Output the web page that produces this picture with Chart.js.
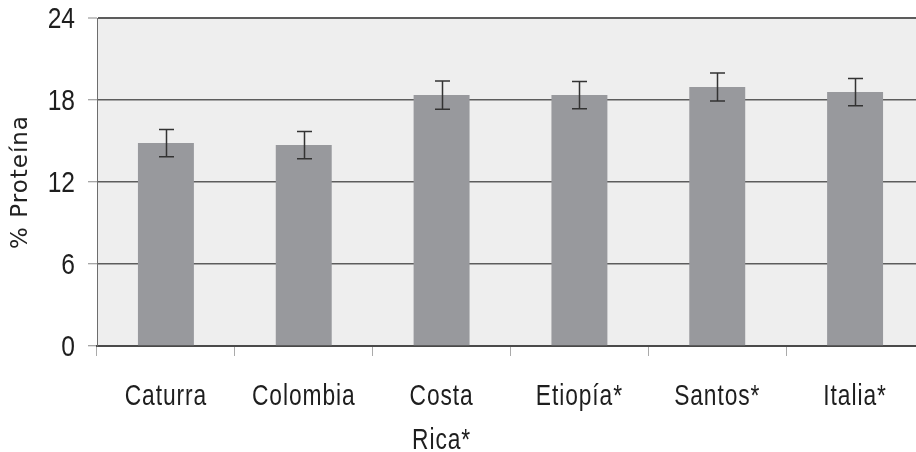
<!DOCTYPE html>
<html>
<head>
<meta charset="utf-8">
<script src="https://cdn.jsdelivr.net/npm/chart.js@4.4.1/dist/chart.umd.min.js"></script>
<style>
  html, body { margin: 0; padding: 0; background: #ffffff; overflow: hidden; }
  #wrap { width: 916px; height: 452px; overflow: hidden; position: relative; }
  canvas { display: block; }
</style>
</head>
<body>
<div id="wrap"><canvas id="c" width="940" height="452"></canvas></div>
<script>
// Coffee varieties and their mean protein content (%), with error bars
const categories = ['Caturra', 'Colombia', ['Costa', 'Rica*'], 'Etiopía*', 'Santos*', 'Italia*'];
const protein = [14.85, 14.7, 18.36, 18.36, 18.95, 18.58];
const proteinError = [1.0, 1.0, 1.03, 1.0, 1.02, 1.0];
const yTicks = [0, 6, 12, 18, 24];

const axisFont = "'Liberation Sans', Arial, sans-serif";

// light grey plot background behind the grid
const plotBackground = {
  id: 'plotBackground',
  beforeDraw(chart) {
    const { ctx, chartArea: a } = chart;
    ctx.save();
    ctx.fillStyle = '#eeeeee';
    ctx.fillRect(a.left, a.top, a.right - a.left, a.bottom - a.top);
    ctx.restore();

    // narrow tick labels: each line squeezed to a fraction of its natural width
    const narrowLabels = (scale, squeeze, spacing) => {
      if (scale._narrow) return;
      const orig = scale.drawLabels.bind(scale);
      scale.drawLabels = function (area) {
        const c = this.ctx;
        const baseFill = CanvasRenderingContext2D.prototype.fillText;
        c.save();
        c.letterSpacing = spacing;
        c.fillText = function (t, x, y) {
          const w = this.measureText(t).width;
          return baseFill.call(this, t, x, y, w * squeeze);
        };
        orig(area);
        delete c.fillText;
        c.restore();
      };
      scale._narrow = true;
    };
    narrowLabels(chart.scales.x, 0.76, '1.2px');
    narrowLabels(chart.scales.y, 0.82, '0px');

    // slight tracking on the axis title
    const y = chart.scales.y;
    if (!y._spacedTitle) {
      const origTitle = y.drawTitle.bind(y);
      y.drawTitle = function (area) {
        this.ctx.save();
        this.ctx.letterSpacing = '1px';
        origTitle(area);
        this.ctx.restore();
      };
      y._spacedTitle = true;
    }
  }
};

// vertical error bars with caps, positioned through the scales
const errorBars = {
  id: 'errorBars',
  afterDatasetsDraw(chart) {
    const { ctx } = chart;
    const yScale = chart.scales.y;
    const meta = chart.getDatasetMeta(0);
    ctx.save();
    ctx.strokeStyle = '#333333';
    ctx.lineWidth = 1.5;
    meta.data.forEach((bar, i) => {
      const v = protein[i], e = proteinError[i];
      const x = Math.round(bar.x) + 0.5;
      const yHi = yScale.getPixelForValue(v + e);
      const yLo = yScale.getPixelForValue(v - e);
      const cap = 7.5;
      ctx.beginPath();
      ctx.moveTo(x, yHi); ctx.lineTo(x, yLo);
      ctx.moveTo(x - cap, yHi); ctx.lineTo(x + cap, yHi);
      ctx.moveTo(x - cap, yLo); ctx.lineTo(x + cap, yLo);
      ctx.stroke();
    });
    ctx.restore();
  }
};

new Chart(document.getElementById('c'), {
  type: 'bar',
  data: {
    labels: categories,
    datasets: [{
      label: '% Proteína',
      data: protein,
      backgroundColor: '#98999d',
      borderWidth: 0,
      barPercentage: 0.406,
      categoryPercentage: 1.0
    }]
  },
  options: {
    responsive: false,
    animation: false,
    devicePixelRatio: 1,
    layout: { padding: { top: 18, right: 16, left: 0, bottom: 0 } },
    plugins: {
      legend: { display: false },
      tooltip: { enabled: false }
    },
    scales: {
      x: {
        offset: true,
        grid: {
          display: true,
          offset: true,
          drawOnChartArea: false,
          drawTicks: true,
          tickLength: 10,
          tickColor: '#aaaaaa',
          tickWidth: 1
        },
        border: { display: true, color: '#4a4a4a', width: 2 },
        ticks: {
          autoSkip: false,
          maxRotation: 0,
          minRotation: 0,
          padding: 19,
          color: '#1e1e1e',
          font: { family: axisFont, size: 30, lineHeight: 1.45 }
        },
        afterFit(scale) {
          scale.height = 106;
          scale.paddingLeft = 0;
          scale.paddingRight = 0;
        }
      },
      y: {
        min: 0,
        max: 24,
        afterBuildTicks(scale) { scale.ticks = yTicks.map(v => ({ value: v })); },
        grid: {
          color: '#5c5c5c',
          lineWidth: ctx => (ctx.tick && ctx.tick.value === 24) ? 2 : 1.5,
          drawTicks: true,
          tickLength: 9,
          tickColor: '#888888',
          tickWidth: 1
        },
        border: { display: true, color: '#6d6d6d', width: 1 },
        ticks: {
          padding: 13,
          labelOffset: 2,
          color: '#1e1e1e',
          font: { family: axisFont, size: 30 }
        },
        title: {
          display: true,
          text: '% Proteína',
          color: '#222222',
          font: { family: "'DejaVu Sans', sans-serif", size: 23 },
          padding: { top: 7, bottom: 0 }
        },
        afterFit(scale) {
          scale.width = 97;
          scale.paddingTop = 0;
          scale.paddingBottom = 0;
        }
      }
    }
  },
  plugins: [plotBackground, errorBars]
});
</script>
</body>
</html>
